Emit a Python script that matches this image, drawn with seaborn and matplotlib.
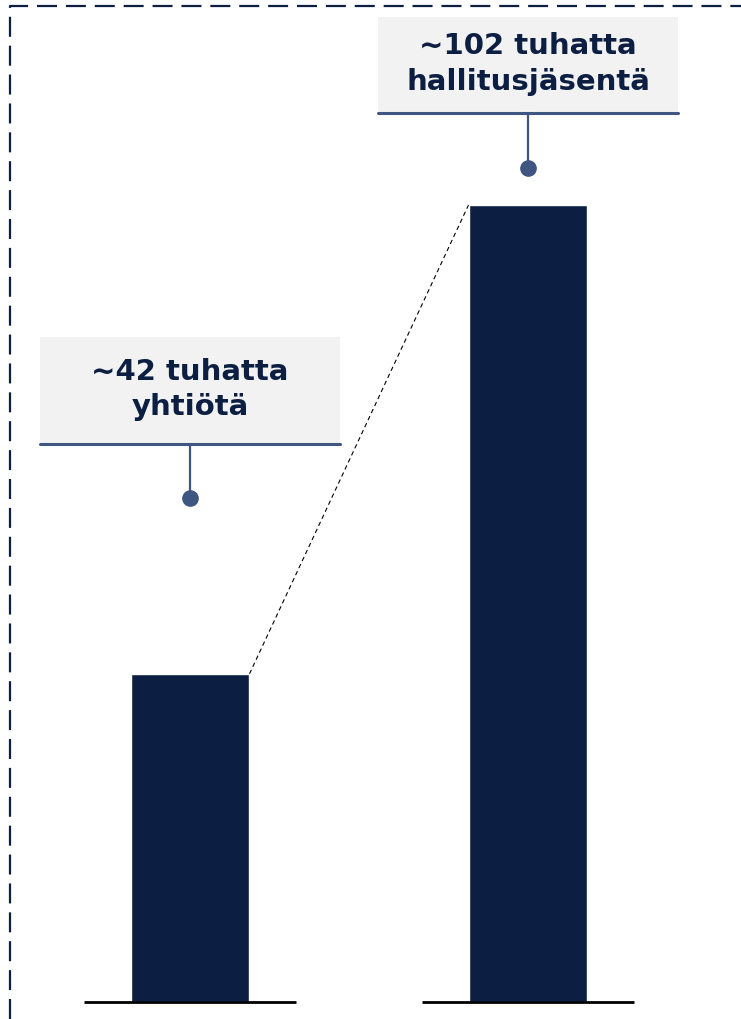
import matplotlib
matplotlib.use('Agg')
import matplotlib.pyplot as plt
import matplotlib.transforms as mtransforms
from matplotlib.lines import Line2D
from matplotlib.patches import Rectangle
import seaborn as sns

# Data
categories = ['Yhtiöt', 'Hallitusjäsenet']
values = [42, 102]
labels = ['~42 tuhatta\nyhtiötä', '~102 tuhatta\nhallitusjäsentä']

# Colours
navy = '#0c1f42'
label_blue = '#3f5682'
box_grey = '#f2f2f2'

# Layout (pixels of the 741x1019 figure)
W, H = 741, 1019
box_top = [337, 17]
box_bottom = [444, 113]
dot_y = [498, 168]

sns.set_style('white')
plt.rcParams['font.family'] = ['DejaVu Sans']

fig = plt.figure(figsize=(W / 100, H / 100), dpi=100)
ax = fig.add_axes([0, 17 / H, 1, 1002 / H])

bar_w = 0.352
sns.barplot(x=categories, y=values, color=navy, saturation=1, width=bar_w,
            ax=ax, zorder=2)
ax.set_xlim(-190 / 338, 551 / 338)
ax.set_ylim(0, 1002 / (797 / 102))
ax.axis('off')

# baseline under each bar
for i in range(len(values)):
    ax.hlines(0, i - 0.3136, i + 0.3136, color='black', lw=2, zorder=3,
              clip_on=False)

# dashed connector between bar tops
ax.plot([0 + bar_w / 2, 1 - bar_w / 2], [values[0], values[1]],
        color='black', lw=0.8, ls=(0, (4, 3)), zorder=1)

# label boxes with stem and dot
trans = mtransforms.blended_transform_factory(ax.transData, fig.transFigure)
for i, lab in enumerate(labels):
    fy_top = 1 - box_top[i] / H
    fy_bot = 1 - box_bottom[i] / H
    ax.add_patch(Rectangle((i - 0.445, fy_bot), 0.89, fy_top - fy_bot,
                           transform=trans, facecolor=box_grey,
                           edgecolor='none', clip_on=False, zorder=2))
    ax.add_line(Line2D([i - 0.445, i + 0.445], [fy_bot, fy_bot],
                       transform=trans, color=label_blue, lw=2.2,
                       clip_on=False, zorder=3))
    fy_dot = 1 - dot_y[i] / H
    ax.add_line(Line2D([i, i], [fy_bot, fy_dot], transform=trans,
                       color=label_blue, lw=1.6, clip_on=False, zorder=3))
    ax.plot([i], [fy_dot], 'o', transform=trans, color=label_blue,
            markersize=11, clip_on=False, zorder=4)
    ax.text(i, (fy_top + fy_bot) / 2 + 1 / H, lab, transform=trans,
            ha='center', va='center', fontsize=21, fontweight='bold',
            color=navy, linespacing=1.32, zorder=5)

# dashed frame on the left and top
fig.add_artist(Line2D([10 / W, 10 / W, 1], [0, 1 - 6 / H, 1 - 6 / H],
                      transform=fig.transFigure, color=navy, lw=1.6,
                      ls=(0, (9, 4))))

fig.savefig('out.png', dpi=100)
